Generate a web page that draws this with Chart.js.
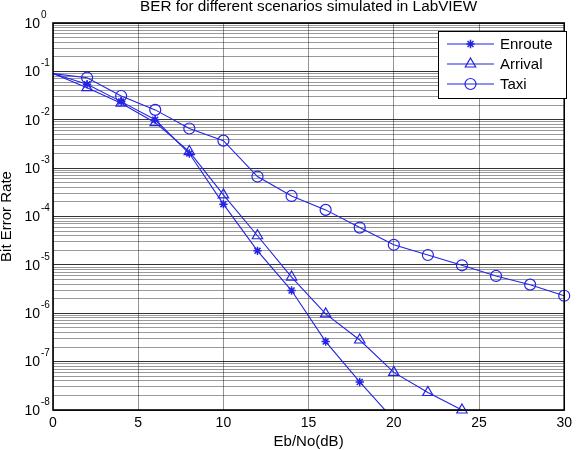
<!DOCTYPE html>
<html><head><meta charset="utf-8">
<script src="https://cdn.jsdelivr.net/npm/chart.js@4/dist/chart.umd.min.js"></script>
<style>html,body{margin:0;padding:0;background:#fff}#wrap{width:577px;height:450px;position:relative}</style>
</head><body><div id="wrap"><canvas id="c"></canvas></div>
<script>
// ---- data ----
const titleText = 'BER for different scenarios simulated in LabVIEW';
const xLabel = 'Eb/No(dB)';
const yLabel = 'Bit Error Rate';
const seriesNames = ['Enroute', 'Arrival', 'Taxi'];
const snrDb = [0, 2, 4, 6, 8, 10, 12, 14, 16, 18, 20, 22, 24, 26, 28, 30];
const enrouteBer = [0.09, 0.054, 0.0237, 0.0100, 0.0020, 0.00018, 1.95e-5, 2.95e-6, 2.6e-7, 3.8e-8, 6.3e-9];
const arrivalBer = [0.09, 0.046, 0.022, 0.0087, 0.0022, 0.00028, 4.0e-5, 5.6e-6, 9.7e-7, 2.8e-7, 6.0e-8, 2.3e-8, 1.0e-8];
const taxiBer = [0.09, 0.074, 0.031, 0.016, 0.0066, 0.0037, 6.7e-4, 2.66e-4, 1.37e-4, 5.9e-5, 2.6e-5, 1.6e-5, 9.8e-6, 5.9e-6, 3.9e-6, 2.3e-6];
const decadeExponents = [0, -1, -2, -3, -4, -5, -6, -7, -8];
const minorMultipliers = [1, 2, 3, 4, 5, 6, 7, 8, 9];
const xTickStep = 5;

const FONT = 'Liberation Sans, Arial, Helvetica, sans-serif';
const BLUE = 'rgb(35,35,230)';
const pts = arr => arr.map((v, i) => ({x: snrDb[i], y: v}));
const isDecade = v => Math.abs(Math.log10(v) - Math.round(Math.log10(v))) < 1e-6;

const markerStyles = ['star', 'triangle', 'circle'];
const markerRadii = [4.2, 6, 5.5];

const datasets = [enrouteBer, arrivalBer, taxiBer].map((arr, i) => ({
  label: seriesNames[i],
  data: pts(arr),
  borderColor: BLUE,
  backgroundColor: 'rgba(0,0,0,0)',
  pointBackgroundColor: 'rgba(0,0,0,0)',
  pointBorderColor: BLUE,
  pointStyle: markerStyles[i],
  // no marker at the shared starting point (0 dB), as in the reference
  pointRadius: arr.map((v, k) => k === 0 ? 0 : markerRadii[i]),
  pointBorderWidth: i === 0 ? 1.5 : 1.2,
  borderWidth: 1.1,
  tension: 0,
  clip: i === 0 ? {left: 8, right: 8, top: 8, bottom: 0} : false
}));

const decorPlugin = {
  id: 'decor',
  afterDraw(chart) {
    const ctx = chart.ctx, a = chart.chartArea, ys = chart.scales.y;
    ctx.save();
    // box
    ctx.strokeStyle = '#000'; ctx.lineWidth = 1.6;
    ctx.strokeRect(a.left, a.top, a.right - a.left, a.bottom - a.top);
    // y tick labels with superscript exponents
    ctx.fillStyle = '#000';
    decadeExponents.forEach(e => {
      const y = ys.getPixelForValue(Math.pow(10, e));
      ctx.font = '14px ' + FONT;
      ctx.textAlign = 'right'; ctx.textBaseline = 'middle';
      ctx.fillText('10', a.left - 13, y + 1);
      ctx.font = '10px ' + FONT;
      ctx.textAlign = 'left';
      ctx.fillText(String(e), a.left - 12, y - 8);
    });
    // title
    ctx.font = '15.3px ' + FONT;
    ctx.textAlign = 'center'; ctx.textBaseline = 'alphabetic';
    ctx.fillText(titleText, (a.left + a.right) / 2, 11);
    // x label
    ctx.font = '15px ' + FONT;
    ctx.textBaseline = 'middle';
    ctx.fillText(xLabel, (a.left + a.right) / 2, 442);
    // y label
    ctx.save();
    ctx.translate(7, (a.top + a.bottom) / 2);
    ctx.rotate(-Math.PI / 2);
    ctx.fillText(yLabel, 0, 0);
    ctx.restore();
    // legend
    const lx = 438, ly = 31, lw = 128, lh = 67;
    ctx.fillStyle = '#fff';
    ctx.fillRect(lx, ly, lw, lh);
    ctx.strokeStyle = '#000'; ctx.lineWidth = 1;
    ctx.strokeRect(lx + 0.5, ly + 0.5, lw, lh);
    chart.data.datasets.forEach((ds, i) => {
      const y = 44 + i * 20;
      ctx.strokeStyle = ds.borderColor; ctx.lineWidth = 1.1;
      ctx.beginPath(); ctx.moveTo(447, y); ctx.lineTo(494, y); ctx.stroke();
      ctx.fillStyle = 'rgba(0,0,0,0)';
      ctx.lineWidth = ds.pointBorderWidth;
      Chart.helpers.drawPoint(ctx, {pointStyle: ds.pointStyle, radius: markerRadii[i], borderWidth: ds.pointBorderWidth, rotation: 0}, 470.5, y);
      ctx.fillStyle = '#000';
      ctx.font = '15px ' + FONT;
      ctx.textAlign = 'left'; ctx.textBaseline = 'middle';
      ctx.fillText(ds.label, 500, y + 1);
    });
    ctx.restore();
  }
};

new Chart(document.getElementById('c'), {
  type: 'line',
  data: {datasets},
  options: {
    responsive: true, maintainAspectRatio: false, animation: false,
    layout: {padding: {top: 23, left: 53, right: 10, bottom: 0}},
    plugins: {legend: {display: false}, title: {display: false}, tooltip: {enabled: false}},
    scales: {
      x: {
        type: 'linear', min: 0, max: 30,
        ticks: {stepSize: xTickStep, color: '#000', font: {family: FONT, size: 14}, padding: 5, maxRotation: 0},
        grid: {color: 'rgba(0,0,0,0.42)', lineWidth: 1, drawTicks: false},
        border: {display: false},
        afterFit(s) { s.height = 40; }
      },
      y: {
        type: 'logarithmic', min: 1e-8, max: 1,
        afterBuildTicks(s) {
          const t = [];
          decadeExponents.slice().reverse().forEach(e => {
            minorMultipliers.forEach(m => {
              const v = m * Math.pow(10, e);
              if (v <= 1 + 1e-12) t.push({value: v});
            });
          });
          s.ticks = t;
        },
        ticks: {display: false},
        grid: {
          color: c => (c.tick && isDecade(c.tick.value)) ? 'rgba(0,0,0,0.8)' : 'rgba(0,0,0,0.4)',
          lineWidth: 1, drawTicks: false
        },
        border: {display: false},
        afterFit(s) { s.width = 0; }
      }
    }
  },
  plugins: [decorPlugin]
});
</script></body></html>
